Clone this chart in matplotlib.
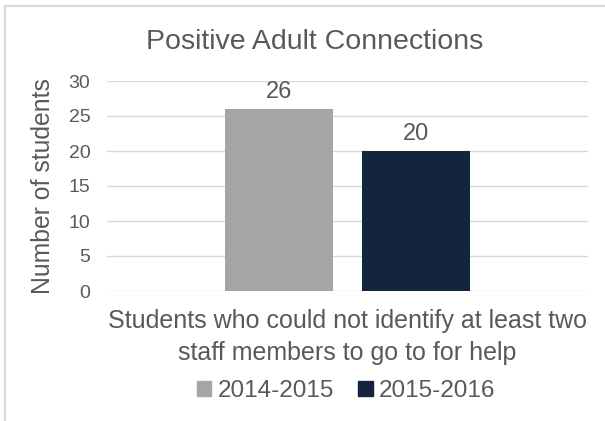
import matplotlib
matplotlib.use('Agg')
import matplotlib.pyplot as plt
from matplotlib.patches import Rectangle, Patch

# --- Data ---
category = ['Students who could not identify at least two\nstaff members to go to for help']
years = ['2014-2015', '2015-2016']
values = [26, 20]
colors = ['#A5A5A5', '#13243F']

text_color = '#595959'
plt.rcParams['font.family'] = ['Liberation Sans', 'DejaVu Sans']

fig = plt.figure(figsize=(6.05, 4.21), dpi=100)
# plot area in pixels: x 107..588, y 81..291 (top-down)
W, H = 605, 421
ax = fig.add_axes([107 / W, 1 - 291 / H, (588 - 107) / W, (291 - 81) / H])

bar_w = 0.2225
offsets = [-0.1424, 0.1424]
for yr, v, c, off in zip(years, values, colors, offsets):
    ax.bar(off, v, width=bar_w, color=c, label=yr, zorder=3)
    ax.text(off, v + 0.9, str(v), ha='center', va='bottom', fontsize=17, color=text_color)

ax.set_xlim(-0.5, 0.5)
ax.set_ylim(0, 30)
ax.set_yticks(range(0, 31, 5))
ax.set_xticks([0])
ax.set_xticklabels(category, fontsize=18, color=text_color, linespacing=1.4)
ax.tick_params(axis='y', length=0, labelsize=14, labelcolor=text_color, pad=12)
ax.tick_params(axis='x', length=0, pad=13)
ax.grid(axis='y', color='#D9D9D9', linewidth=1, zorder=0)
for s in ax.spines.values():
    s.set_visible(False)
ax.set_ylabel('Number of students', fontsize=17.8, color=text_color, labelpad=10)

fig.text(315 / W, 1 - 42 / H, 'Positive Adult Connections', ha='center', va='center',
         fontsize=20.5, color=text_color)

handles = [Patch(color=c) for c in colors]
fig.legend(handles, years, loc='center', bbox_to_anchor=(346 / W, 1 - 391 / H), ncol=2,
           frameon=False, fontsize=17.5, handlelength=0.6, handleheight=0.6,
           handletextpad=0.25, columnspacing=1.0, labelcolor=text_color)

# outer chart border
fig.patches.append(Rectangle((5 / W, -0.05), 1.0, 1 - 6 / H + 0.05, transform=fig.transFigure,
                             fill=False, edgecolor='#D9D9D9', linewidth=1.5))

fig.savefig('out.png', dpi=100)
